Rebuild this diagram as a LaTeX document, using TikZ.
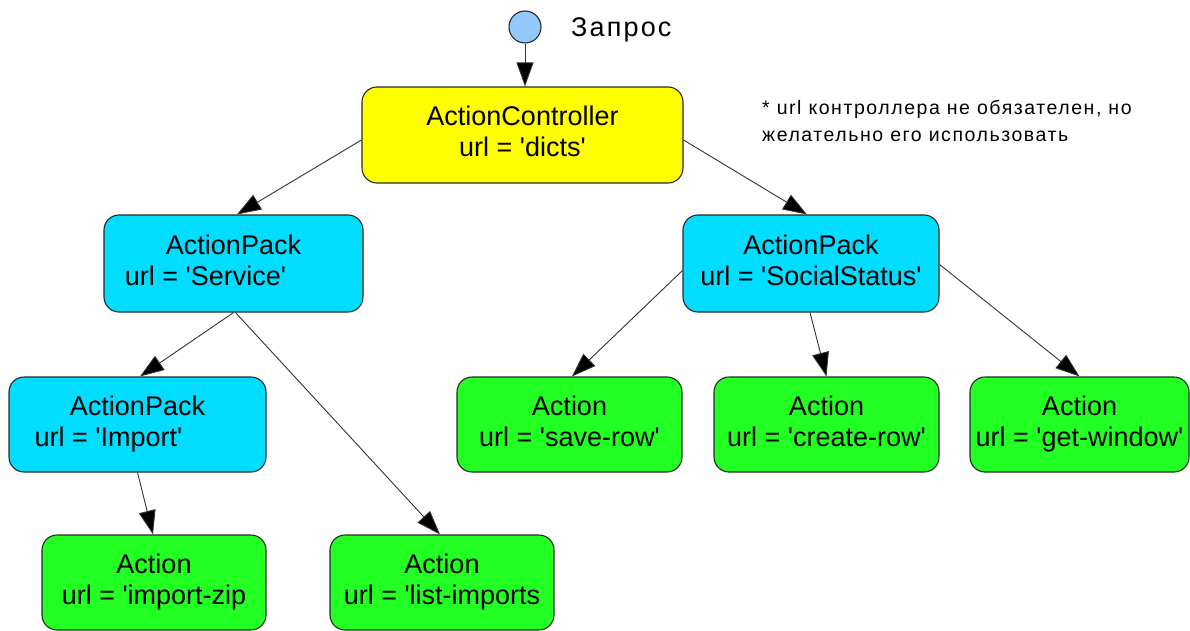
\documentclass[tikz,border=0pt]{standalone}
\usepackage{fontspec}
\setmainfont{Liberation Sans}[Ligatures=TeXOff]
\newfontfamily\spacedfont[LetterSpace=8,Ligatures=TeXOff]{Liberation Sans}
\usetikzlibrary{arrows.meta,calc}
\definecolor{cyellow}{RGB}{255,255,0}
\definecolor{ccyan}{RGB}{0,221,255}
\definecolor{cgreen}{RGB}{34,255,34}
\definecolor{cstart}{RGB}{146,200,250}
\definecolor{cborder}{RGB}{40,40,40}
\definecolor{cedge}{RGB}{50,50,50}
\tikzset{
  box/.style={draw=cborder, line width=1.1pt, rounded corners=15pt, inner sep=0pt,
    align=center, font=\fontsize{27}{31}\selectfont},
  ctrl/.style={box, fill=cyellow},
  pack/.style={box, fill=ccyan},
  act/.style={box, fill=cgreen},
  edge/.style={draw=cedge, line width=0.9pt, -{Triangle[length=24pt,width=17pt,fill=black]}},
}
\begin{document}
\begin{tikzpicture}[x=1pt,y=-1pt]
\useasboundingbox (0,0) rectangle (1190,631);
\node[circle, draw=cborder, line width=1.1pt, fill=cstart, minimum size=32pt, inner sep=0pt] (start) at (525,27) {};
\node[anchor=base west, inner sep=0pt, font=\fontsize{27}{31}\spacedfont] (lbl) at (571,37) {Запрос};

\node[ctrl, minimum width=321pt, minimum height=96pt] (ac) at (522.5,135) {\strut ActionController\\\strut url = 'dicts'};
\node[pack, minimum width=259pt, minimum height=97pt] (service) at (233.5,263.5) {\strut ActionPack\\\strut url = 'Service'\hspace*{56pt}};
\node[pack, minimum width=256pt, minimum height=97pt] (ss) at (811,263.5) {\strut ActionPack\\\strut url = 'SocialStatus'};
\node[pack, minimum width=257pt, minimum height=95pt] (import) at (137.5,424.5) {\strut ActionPack\\\strut url = 'Import'\hspace*{58pt}};
\node[act, minimum width=225pt, minimum height=95pt] (saverow) at (569.5,424.5) {\strut Action\\\strut url = 'save-row'};
\node[act, minimum width=225pt, minimum height=95pt] (createrow) at (826.5,424.5) {\strut Action\\\strut url = 'create-row'};
\node[act, minimum width=219pt, minimum height=95pt] (getwindow) at (1079.5,424.5) {\strut Action\\\strut url = 'get-window'};
\node[act, minimum width=224pt, minimum height=95pt] (importzip) at (154,582.5) {\strut Action\\\strut url = 'import-zip};
\node[act, minimum width=224pt, minimum height=95pt] (list) at (442,582.5) {\strut Action\\\strut url = 'list-imports};

\node[anchor=north west, inner sep=0pt, align=left, font=\fontsize{19.5}{27}\spacedfont] (note) at (762,100)
  {* url контроллера не обязателен, но\\желательно его использовать};

\draw[edge] (start.south) -- (start.south |- ac.north);
\draw[edge] ([yshift=-5pt]ac.west) -- ([xshift=3.5pt]service.north);
\draw[edge] ([yshift=-5pt]ac.east) -- ([xshift=-4pt]ss.north);
\draw[edge] (service.south) -- ([xshift=2.5pt]import.north);
\draw[edge] ([xshift=2pt]service.south) -- ([xshift=-2pt]list.north);
\draw[edge] (import.south) -- ([xshift=-1pt]importzip.north);
\draw[edge] ([yshift=-7pt]ss.west) -- ([xshift=2.5pt]saverow.north);
\draw[edge] ([xshift=-1pt]ss.south) -- (createrow.north);
\draw[edge] ([yshift=-1pt]ss.east) -- (getwindow.north);
\end{tikzpicture}
\end{document}
